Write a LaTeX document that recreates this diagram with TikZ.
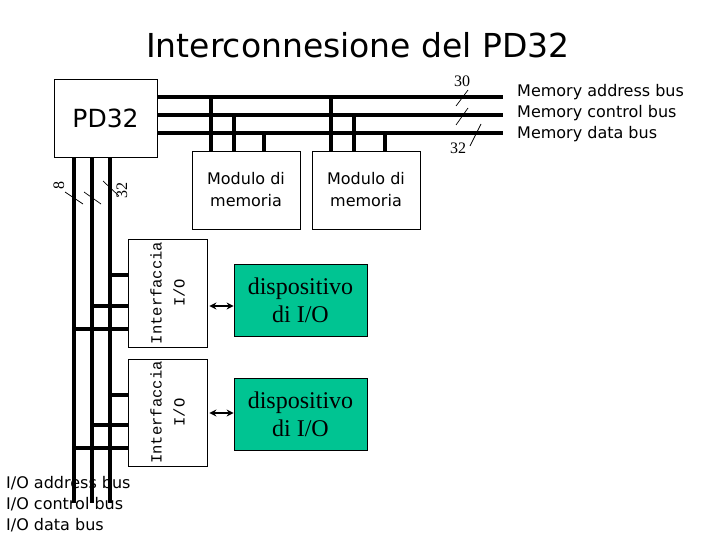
\documentclass[tikz,border=0pt]{standalone}
\usepackage{fontspec}
\usetikzlibrary{calc,arrows.meta}
\newfontfamily\comicf{DejaVu Sans}
\newfontfamily\monof{Liberation Mono}
\newfontfamily\tmsf{Liberation Serif}
\definecolor{devgreen}{RGB}{0,196,146}
\begin{document}
\begin{tikzpicture}[x=1pt,y=-1pt,
  box/.style={draw=black,line width=0.8pt,inner sep=0pt,fill=white},
  bus/.style={line width=3.8pt},
  tap/.style={line width=3.8pt},
  slash/.style={line width=0.7pt},
  arr/.style={line width=1.6pt,{Stealth[length=7pt,width=7pt]}-{Stealth[length=7pt,width=7pt]}},
  lab/.style={inner sep=0pt,font=\comicf\fontsize{16}{20}\selectfont}]
\useasboundingbox (0,0) rectangle (720,540);

% title
\node[inner sep=0pt,font=\comicf\fontsize{33}{38}\selectfont] (title) at (358,45) {Interconnesione del PD32};

% buses endpoints
\coordinate (mab) at (503,97);
\coordinate (mcb) at (503,115);
\coordinate (mdb) at (503,133);
\coordinate (iab) at (74,503);
\coordinate (icb) at (92,503);
\coordinate (idb) at (110,503);

% boxes
\node[box,minimum width=103,minimum height=78] (pd32) at (105.5,118) {};
\node[box,minimum width=108,minimum height=78] (mem1) at (246,190) {};
\node[box,minimum width=108,minimum height=78] (mem2) at (366,190) {};

% memory buses
\draw[bus] (pd32.east |- mab) -- (mab);
\draw[bus] (pd32.east |- mcb) -- (mcb);
\draw[bus] (pd32.east |- mdb) -- (mdb);

% memory taps
\draw[tap] (211,97) -- (211,0 |- mem1.north);
\draw[tap] (234,115) -- (234,0 |- mem1.north);
\draw[tap] (264,133) -- (264,0 |- mem1.north);
\draw[tap] (331,97) -- (331,0 |- mem2.north);
\draw[tap] (354,115) -- (354,0 |- mem2.north);
\draw[tap] (385,133) -- (385,0 |- mem2.north);

% redraw box outlines on top
\node[box,minimum width=103,minimum height=78] (pd32b) at (105.5,118) {};
\node[inner sep=0pt,font=\comicf\fontsize{25}{30}\selectfont] (pd32t) at (pd32b) {PD32};
\node[box,minimum width=108,minimum height=78,align=center,font=\comicf\fontsize{16}{22}\selectfont] (mem1b) at (246,190) {Modulo di\\memoria};
\node[box,minimum width=108,minimum height=78,align=center,font=\comicf\fontsize{16}{22}\selectfont] (mem2b) at (366,190) {Modulo di\\memoria};

% I/O vertical buses
\draw[bus] (iab |- pd32.south) -- (iab);
\draw[bus] (icb |- pd32.south) -- (icb);
\draw[bus] (idb |- pd32.south) -- (idb);

% interfaces
\node[box,minimum width=79,minimum height=108] (if1) at (167.5,293) {};
\node[box,minimum width=79,minimum height=107] (if2) at (167.5,412.5) {};
\node[inner sep=0pt,rotate=90,align=center,font=\monof\fontsize{15.5}{23}\selectfont] (if1t) at (if1) {Interfaccia\\I/O};
\node[inner sep=0pt,rotate=90,align=center,font=\monof\fontsize{15.5}{23}\selectfont] (if2t) at (if2) {Interfaccia\\I/O};

% interface taps
\draw[tap] (idb |- 0,275) -- (if1.west |- 0,275);
\draw[tap] (icb |- 0,306) -- (if1.west |- 0,306);
\draw[tap] (iab |- 0,329) -- (if1.west |- 0,329);
\draw[tap] (idb |- 0,395) -- (if2.west |- 0,395);
\draw[tap] (icb |- 0,425) -- (if2.west |- 0,425);
\draw[tap] (iab |- 0,448) -- (if2.west |- 0,448);

% devices
\node[box,fill=devgreen,minimum width=133,minimum height=72,align=center,font=\tmsf\fontsize{24}{28}\selectfont] (dev1) at (300.5,300) {dispositivo\\di I/O};
\node[box,fill=devgreen,minimum width=133,minimum height=72,align=center,font=\tmsf\fontsize{24}{28}\selectfont] (dev2) at (300.5,414) {dispositivo\\di I/O};

\draw[arr] ($(if1.east |- 0,306)+(2,0)$) -- (dev1.west |- 0,306);
\draw[arr] ($(if2.east |- 0,413)+(2,0)$) -- (dev2.west |- 0,413);

% slashes memory bus
\draw[slash] (456,106) -- (468,90);
\draw[slash] (456,125) -- (468,108);
\draw[slash] (470,146) -- (481,124);
\node[inner sep=0pt,font=\tmsf\fontsize{16}{18}\selectfont] (n30) at (462,81) {30};
\node[inner sep=0pt,font=\tmsf\fontsize{16}{18}\selectfont] (n32) at (458,148) {32};

% slashes I/O bus
\draw[slash] (65,192) -- (83,204);
\draw[slash] (84,192) -- (101,204);
\draw[slash] (103,181) -- (119,196);
\node[inner sep=0pt,rotate=90,font=\tmsf\fontsize{16}{18}\selectfont] (n8) at (59,186) {8};
\node[inner sep=0pt,rotate=90,font=\tmsf\fontsize{16}{18}\selectfont] (n32b) at (122,191) {32};

% bus labels
\node[lab,anchor=west] (l1) at (517,92) {Memory address bus};
\node[lab,anchor=west] (l2) at (517,113) {Memory control bus};
\node[lab,anchor=west] (l3) at (517,134) {Memory data bus};
\node[lab,anchor=west] (l4) at (6,483) {I/O address bus};
\node[lab,anchor=west] (l5) at (6,504) {I/O control bus};
\node[lab,anchor=west] (l6) at (6,525) {I/O data bus};
\end{tikzpicture}
\end{document}
